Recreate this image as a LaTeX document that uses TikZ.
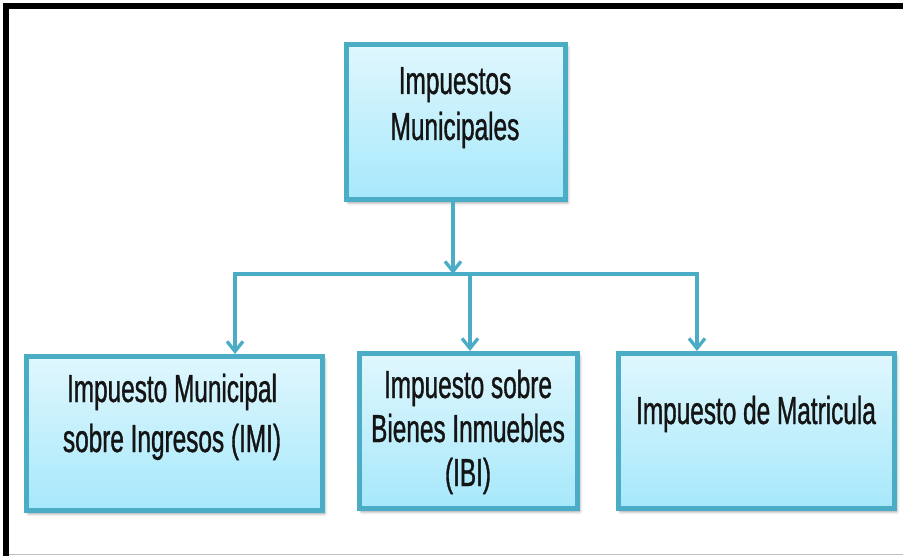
\documentclass[tikz,border=0pt]{standalone}
\usepackage{fontspec}
\newfontfamily\nar[FakeStretch=0.625,FakeBold=0.9]{Liberation Sans}
\usetikzlibrary{arrows.meta,shadows.blur}
\definecolor{bord}{HTML}{4BACC6}
\definecolor{ftop}{HTML}{E0F7FD}
\definecolor{fbot}{HTML}{A6E8FB}
\begin{document}
\begin{tikzpicture}[x=1pt,y=-1pt,
 boxst/.style={draw=bord, line width=5pt, top color=ftop, bottom color=fbot, inner sep=0pt,
   blur shadow={shadow xshift=2pt, shadow yshift=-3pt, shadow blur radius=3pt, shadow opacity=45}},
 lbl/.style={font=\nar\fontsize{39}{46}\selectfont, align=center, anchor=base, inner sep=0pt, text=black!92},
 conn/.style={draw=bord, line width=3.3pt, line join=miter},
 tip/.style={-{Straight Barb[length=10pt,width=16pt,line width=3.3pt]}}
]
\useasboundingbox (0,0) rectangle (903,556);
\fill[black] (3,3) rectangle (903,9);
\fill[black] (3,3) rectangle (9,556);
\fill[black!25] (9,553.5) rectangle (903,555);

\node[boxst, minimum width=219pt, minimum height=155pt] (top) at (456,122) {};
\node[boxst, minimum width=296pt, minimum height=154pt] (b1) at (174.5,433.5) {};
\node[boxst, minimum width=218pt, minimum height=155pt] (b2) at (468.5,431) {};
\node[boxst, minimum width=276pt, minimum height=155pt] (b3) at (756.5,431) {};

\node[lbl] (t0) at (455,140) {Impuestos\\Municipales};
\node[lbl, font=\nar\fontsize{39}{50}\selectfont] (t1) at (172,452) {Impuesto Municipal\\sobre Ingresos (IMI)};
\node[lbl, font=\nar\fontsize{39}{44}\selectfont] (t2) at (468,486) {Impuesto sobre\\Bienes Inmuebles\\(IBI)};
\node[lbl] (t3) at (756,424) {Impuesto de Matricula};

\coordinate (j) at (453,274);
\coordinate (l) at (235,274);
\coordinate (m) at (470,274);
\coordinate (r) at (697,274);
\draw[conn,tip] (top.south -| j) -- (j);
\draw[conn,tip] (m) -- (l) -- (l |- b1.north);
\draw[conn,tip] (m) -- (r) -- (r |- b3.north);
\draw[conn,tip] (m) -- (m |- b2.north);
\end{tikzpicture}
\end{document}
